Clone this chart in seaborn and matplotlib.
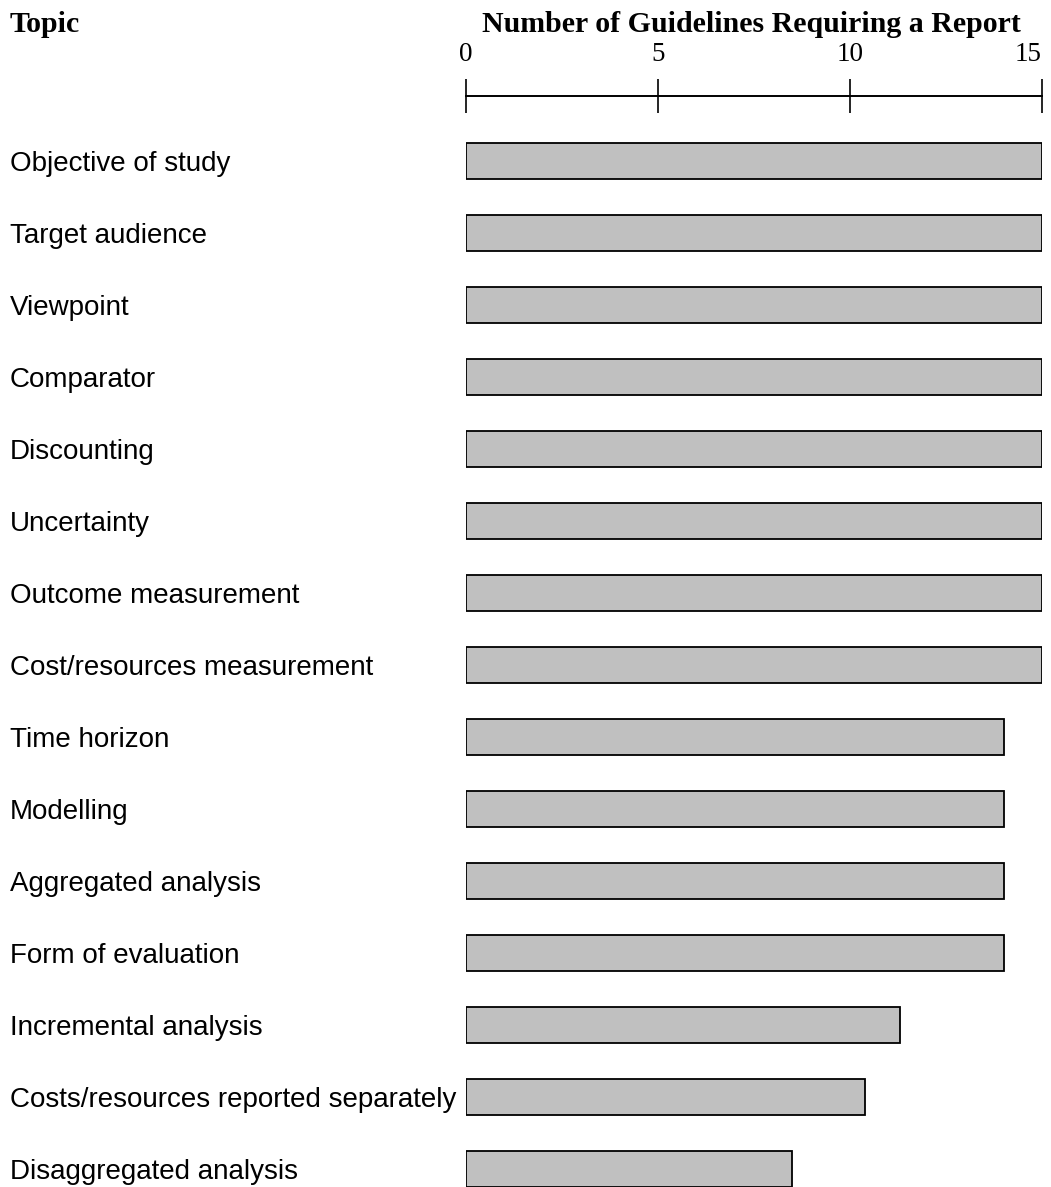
"""
Guideline reporting requirements - horizontal bar chart
"""
import matplotlib
matplotlib.use('Agg')
import matplotlib.pyplot as plt
import seaborn as sns
import pandas as pd

# data
topics = [
    'Objective of study',
    'Target audience',
    'Viewpoint',
    'Comparator',
    'Discounting',
    'Uncertainty',
    'Outcome measurement',
    'Cost/resources measurement',
    'Time horizon',
    'Modelling',
    'Aggregated analysis',
    'Form of evaluation',
    'Incremental analysis',
    'Costs/resources reported separately',
    'Disaggregated analysis',
]
n_guidelines = [15, 15, 15, 15, 15, 15, 15, 15, 14, 14, 14, 14, 11.3, 10.4, 8.5]
x_ticks = [0, 5, 10, 15]

df = pd.DataFrame({'topic': topics, 'count': n_guidelines})

sns.set_style('white')
plt.rcParams['font.family'] = ['Liberation Sans', 'DejaVu Sans']
plt.rcParams['text.color'] = 'black'
plt.rcParams['xtick.color'] = 'black'
plt.rcParams['ytick.color'] = 'black'
plt.rcParams['axes.edgecolor'] = 'black'

W, H = 1051, 1187
fig = plt.figure(figsize=(W / 100, H / 100), dpi=100)
# axes placed in pixel terms: 0 -> x=466, 15 -> x=1042, axis line at y=96
ax = fig.add_axes([466 / W, 0, 576 / W, 1 - 96 / H])

sns.barplot(data=df, x='count', y='topic', orient='h', color='#c0c0c0',
            saturation=1, edgecolor='black', linewidth=1.3, width=0.5, ax=ax)

ax.set_xlim(0, 15)
ax.set_ylim((H - 161) / 72, (96 - 161) / 72)

# top axis with crossing ticks
for side in ['left', 'right', 'bottom']:
    ax.spines[side].set_visible(False)
ax.spines['top'].set_linewidth(1.4)
ax.xaxis.tick_top()
ax.set_xticks(x_ticks)
ax.set_xticklabels([str(t) for t in x_ticks], family='Liberation Serif', fontsize=19.5)
ax.get_xticklabels()[-1].set_horizontalalignment('right')
ax.tick_params(axis='x', direction='inout', length=25, width=1.2, pad=8.5)
ax.set_xlabel('')

# topic labels left aligned at the figure edge
ax.tick_params(axis='y', length=0, pad=456 / 1.389)
for lab in ax.get_yticklabels():
    lab.set_horizontalalignment('left')
    lab.set_fontsize(20)
ax.set_ylabel('')

fig.text(10 / W, 1 - 32 / H, 'Topic', family='Liberation Serif', fontsize=21.5,
         fontweight='bold', ha='left', va='baseline')
fig.text(751 / W, 1 - 32 / H, 'Number of Guidelines Requiring a Report',
         family='Liberation Serif', fontsize=21.5, fontweight='bold',
         ha='center', va='baseline')

plt.savefig('out.png', dpi=100)
